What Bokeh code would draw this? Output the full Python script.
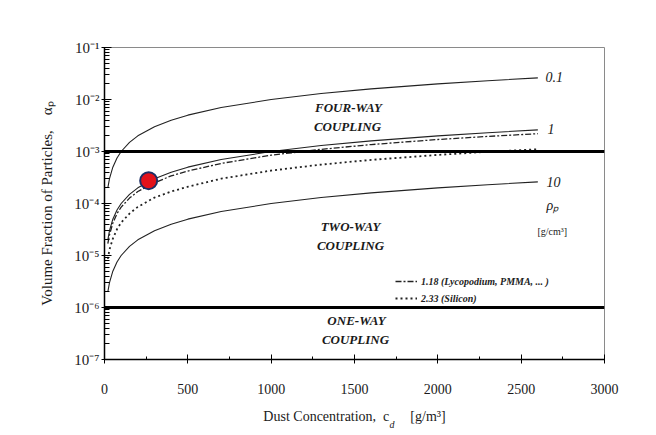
from bokeh.plotting import figure
from bokeh.models import (FixedTicker, CustomJSTickFormatter, Span, Label, Legend, LegendItem, LinearAxis)
from bokeh.embed import file_html
from bokeh.resources import INLINE

# ---- data ----
conc = [20, 30, 50, 75, 100, 150, 200, 300, 400, 500, 700, 1000, 1300, 1600, 2000, 2300, 2600]
alpha_rho_01 = [2.0e-4, 3.0e-4, 5.0e-4, 7.5e-4, 1.0e-3, 1.5e-3, 2.0e-3, 3.0e-3, 4.0e-3, 5.0e-3,
                7.0e-3, 1.0e-2, 1.3e-2, 1.6e-2, 2.0e-2, 2.3e-2, 2.6e-2]
alpha_rho_1 = [2.0e-5, 3.0e-5, 5.0e-5, 7.5e-5, 1.0e-4, 1.5e-4, 2.0e-4, 3.0e-4, 4.0e-4, 5.0e-4,
               7.0e-4, 1.0e-3, 1.3e-3, 1.6e-3, 2.0e-3, 2.3e-3, 2.6e-3]
alpha_rho_10 = [2.0e-6, 3.0e-6, 5.0e-6, 7.5e-6, 1.0e-5, 1.5e-5, 2.0e-5, 3.0e-5, 4.0e-5, 5.0e-5,
                7.0e-5, 1.0e-4, 1.3e-4, 1.6e-4, 2.0e-4, 2.3e-4, 2.6e-4]
alpha_rho_118 = [1.7e-5, 2.5e-5, 4.2e-5, 6.4e-5, 8.5e-5, 1.27e-4, 1.7e-4, 2.5e-4, 3.4e-4, 4.2e-4,
                 5.9e-4, 8.5e-4, 1.1e-3, 1.36e-3, 1.7e-3, 1.95e-3, 2.2e-3]
alpha_rho_233 = [8.6e-6, 1.3e-5, 2.1e-5, 3.2e-5, 4.3e-5, 6.4e-5, 8.6e-5, 1.3e-4, 1.7e-4, 2.1e-4,
                 3.0e-4, 4.3e-4, 5.6e-4, 6.9e-4, 8.6e-4, 9.9e-4, 1.1e-3]
marker_conc = [265]
marker_alpha = [2.75e-4]
regime_limits = [1e-3, 1e-6]

x_ticks = [0, 500, 1000, 1500, 2000, 2500, 3000]
x_minor = [250, 750, 1250, 1750, 2250, 2750]
y_ticks = [1e-7, 1e-6, 1e-5, 1e-4, 1e-3, 1e-2, 1e-1]
y_tick_labels = ["10⁻⁷", "10⁻⁶", "10⁻⁵", "10⁻⁴", "10⁻³", "10⁻²", "10⁻¹"]
y_minor = [k * t for t in y_ticks[:-1] for k in range(2, 10)]

curve_labels = ["0.1", "1", "10"]
legend_labels = ["1.18 (Lycopodium, PMMA, ... )", "2.33 (Silicon)"]

SERIF = "Liberation Serif"
NB = "\u00a0"

p = figure(width=656, height=435, x_range=(0, 3000), y_range=(1e-7, 1e-1),
           y_axis_type="log", output_backend="svg", toolbar_location=None,
           min_border_left=104, min_border_right=52, min_border_top=47, min_border_bottom=76)
p.xgrid.visible = False
p.ygrid.visible = False
p.outline_line_color = "#8a8a8a"
p.outline_line_width = 1
p.background_fill_color = "white"
p.border_fill_color = "white"

# axes
p.xaxis.ticker = FixedTicker(ticks=x_ticks, minor_ticks=x_minor)
p.yaxis.ticker = FixedTicker(ticks=y_ticks, minor_ticks=y_minor)
p.yaxis.formatter = CustomJSTickFormatter(args=dict(tvals=y_ticks, tlabels=y_tick_labels), code="""
    let best = 0, bd = 1e9;
    for (let i = 0; i < tvals.length; i++) {
        const d = Math.abs(Math.log10(tvals[i]) - Math.log10(tick));
        if (d < bd) { bd = d; best = i; }
    }
    return tlabels[best];
""")
for ax in (p.xaxis[0], p.yaxis[0]):
    ax.axis_line_color = "black"
    ax.axis_line_width = 1.5
    ax.major_tick_line_color = "black"
    ax.minor_tick_line_color = "black"
    ax.major_label_text_font = SERIF
    ax.major_label_text_font_size = "14px"
    ax.major_label_text_color = "#1a1a1a"
    ax.axis_label_text_font = SERIF
    ax.axis_label_text_font_size = "15px"
    ax.axis_label_text_font_style = "normal"
    ax.axis_label_text_color = "#1a1a1a"

p.xaxis.major_tick_in = 5
p.xaxis.major_tick_out = 4
p.xaxis.minor_tick_in = 3
p.xaxis.minor_tick_out = 0
p.xaxis.major_label_standoff = 20
p.xaxis.axis_label = "Dust Concentration," + NB * 2 + "c" + NB * 6 + "[g/m³]"
p.xaxis.axis_label_text_font_size = "14px"
p.xaxis.axis_label_standoff = 12

p.yaxis.major_tick_in = 7
p.yaxis.major_tick_out = 3
p.yaxis.minor_tick_in = 5
p.yaxis.minor_tick_out = 0
p.yaxis.major_label_standoff = 2
p.yaxis.major_label_text_font_size = "15px"
p.yaxis.axis_label = "Volume Fraction of Particles," + NB * 4 + "αₚ"
p.yaxis.axis_label_standoff = 16

# subscript "d" of c_d: a second, bare axis under the first one
sub_axis = LinearAxis(ticker=FixedTicker(ticks=[1725]),
                      formatter=CustomJSTickFormatter(code="return 'd';"),
                      axis_line_color=None, major_tick_line_color=None, minor_tick_line_color=None,
                      major_tick_out=0, major_tick_in=0, minor_tick_out=0, minor_tick_in=0,
                      major_label_standoff=-8, major_label_text_font=SERIF,
                      major_label_text_font_size="10px", major_label_text_font_style="italic",
                      major_label_text_color="#1a1a1a")
p.add_layout(sub_axis, "below")

# regime boundaries
for lim in regime_limits:
    p.add_layout(Span(location=lim, dimension="width", line_color="black", line_width=3))

# curves
p.line(conc, alpha_rho_01, line_color="#222222", line_width=1.1)
p.line(conc, alpha_rho_1, line_color="#222222", line_width=1.1)
p.line(conc, alpha_rho_10, line_color="#222222", line_width=1.1)
r118 = p.line(conc, alpha_rho_118, line_color="#222222", line_width=1.3, line_dash="6 2 2 2")
r233 = p.line(conc, alpha_rho_233, line_color="#222222", line_width=1.8, line_dash="2 3")

p.scatter(marker_conc, marker_alpha, size=17, fill_color="#e3121b", line_color="#1d2f66", line_width=2)

legend = Legend(items=[LegendItem(label=legend_labels[0], renderers=[r118]),
                       LegendItem(label=legend_labels[1], renderers=[r233])],
                location=(291, 55), border_line_color=None, background_fill_alpha=0,
                padding=0, margin=0, spacing=5, glyph_height=12, label_height=12,
                glyph_width=22, label_standoff=4,
                label_text_font=SERIF, label_text_font_size="10px",
                label_text_font_style="bold italic", label_text_color="#222222")
p.add_layout(legend, "center")

# text annotations
def lab(x, y, text, size="13px", style="bold italic", align="center", base="middle"):
    p.add_layout(Label(x=x, y=y, text=text, text_font=SERIF, text_font_size=size,
                       text_font_style=style, text_align=align, text_baseline=base,
                       text_color="#1a1a1a"))

lab(1464, 7.0e-3, "FOUR-WAY")
lab(1458, 3.0e-3, "COUPLING")
lab(1476, 3.6e-5, "TWO-WAY")
lab(1476, 1.55e-5, "COUPLING")
lab(1512, 5.6e-7, "ONE-WAY")
lab(1506, 2.4e-7, "COUPLING")

lab(2646, 2.65e-2, curve_labels[0], size="14px", style="italic", align="left")
lab(2658, 2.65e-3, curve_labels[1], size="14px", style="italic", align="left")
lab(2652, 2.54e-4, curve_labels[2], size="14px", style="italic", align="left")
lab(2652, 9.1e-5, "ρₚ", size="14px", style="italic", align="left")
lab(2598, 2.9e-5, "[g/cm³]", size="10px", style="normal", align="left")

open("out.html", "w").write(file_html(p, INLINE))
